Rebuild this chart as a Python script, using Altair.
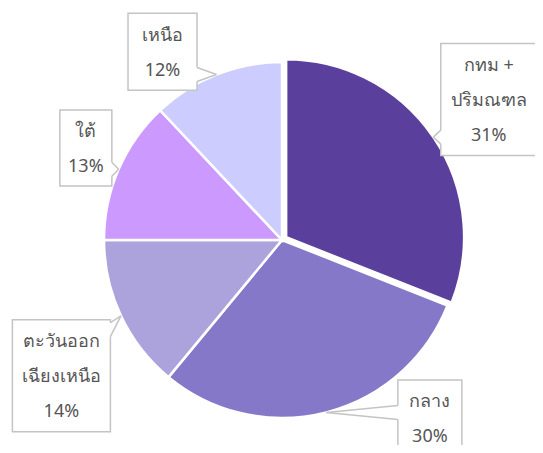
import altair as alt
import pandas as pd
import numpy as np

# ---- data ----
regions = ["กทม + ปริมณฑล", "กลาง", "ตะวันออกเฉียงเหนือ", "ใต้", "เหนือ"]
label_text = ["กทม +\nปริมณฑล", "กลาง", "ตะวันออก\nเฉียงเหนือ", "ใต้", "เหนือ"]
shares = [31, 30, 14, 13, 12]
colors = ["#5b3f9d", "#8678c8", "#ada3dc", "#cc99ff", "#ccccff"]

# ---- layout / style ----
W, H = 527, 437
CX, CY, R = 274, 232, 178
EXPLODE = [5, 0, 0, 0, 0]
LBL_SHIFT = [0, -25.3, -6.4, 1.7, -10.8]     # degrees, label box angle vs slice mid-angle
LBL_DIST = [250, 231.5, 259, 216.6, 223]     # px, pie centre -> box centre
BOX_W = [96, 64, 98, 52, 69]
BOX_H = [112, 76, 112, 76, 77]
PTR_HALF = 7
LINE_H = 35
BORDER = "#c4c4c4"
TEXT_COL = "#555555"
FONT = "Noto Sans"

df = pd.DataFrame({"region": regions, "share": shares, "order": range(len(shares))})
df["explode"] = EXPLODE

# label geometry derived from the slice angles
total = float(sum(shares))
cum = np.cumsum(shares)
mid = (cum - np.array(shares) / 2) / total * 2 * np.pi
ex = np.array(EXPLODE)
tip_x = CX + (R + ex) * np.sin(mid)
tip_y = CY - (R + ex) * np.cos(mid)
ang = mid + np.radians(LBL_SHIFT)
bx = CX + np.array(LBL_DIST) * np.sin(ang)
by = CY - np.array(LBL_DIST) * np.cos(ang)
bw = np.array(BOX_W); bh = np.array(BOX_H)
x0 = bx - bw / 2; x1 = bx + bw / 2; y0 = by - bh / 2; y1 = by + bh / 2

labels = [t + "\n" + f"{s}%" for t, s in zip(label_text, shares)]
nlines = np.array([l.count("\n") + 1 for l in labels])
boxes = pd.DataFrame({"x0": x0, "x1": x1, "y0": y0, "y1": y1, "cx": bx,
                      "ty": by - (nlines - 1) * LINE_H / 2 + 1.5,
                      "label": labels})

segs, covers = [], []
for i in range(len(shares)):
    tx, ty = tip_x[i], tip_y[i]
    if tx < x0[i] or tx > x1[i]:
        ex_ = x0[i] if tx < x0[i] else x1[i]
        b = min(max(ty, y0[i] + PTR_HALF + 3), y1[i] - PTR_HALF - 3)
        a1, a2 = (ex_, b - PTR_HALF), (ex_, b + PTR_HALF)
    else:
        ey = y0[i] if ty < y0[i] else y1[i]
        b = min(max(tx, x0[i] + PTR_HALF + 3), x1[i] - PTR_HALF - 3)
        a1, a2 = (b - PTR_HALF, ey), (b + PTR_HALF, ey)
    covers.append({"x": a1[0], "y": a1[1], "x2": a2[0], "y2": a2[1]})
    segs.append({"x": a1[0], "y": a1[1], "x2": tx, "y2": ty})
    segs.append({"x": a2[0], "y": a2[1], "x2": tx, "y2": ty})
segs = pd.DataFrame(segs)
covers = pd.DataFrame(covers)

xs = alt.Scale(domain=[0, W], range=[0, W], nice=False, zero=False)
ys = alt.Scale(domain=[0, H], range=[0, H], nice=False, zero=False)

base = alt.Chart(df).transform_window(
    end="sum(share)", sort=[alt.SortField("order")], frame=[None, 0]
).transform_calculate(start="datum.end - datum.share")

theta_enc = dict(
    theta=alt.Theta("start:Q", scale=alt.Scale(domain=[0, total])),
    theta2="end:Q",
    color=alt.Color("region:N", scale=alt.Scale(domain=regions, range=colors), legend=None),
)

pie_rest = base.transform_filter("datum.explode == 0").mark_arc(
    outerRadius=R, x=CX, y=CY, stroke="white", strokeWidth=2.5
).encode(**theta_enc)

off = EXPLODE[0]
m0 = mid[0]
pie_out = base.transform_filter("datum.explode > 0").mark_arc(
    outerRadius=R, x=CX + off * np.sin(m0), y=CY - off * np.cos(m0), stroke="white", strokeWidth=2.5
).encode(**theta_enc)

rects = alt.Chart(boxes).mark_rect(fill="white", stroke=BORDER, strokeWidth=1.5).encode(
    x=alt.X("x0:Q", scale=xs, axis=None), x2="x1:Q",
    y=alt.Y("y0:Q", scale=ys, axis=None), y2="y1:Q",
)
cover = alt.Chart(covers).mark_rule(color="white", strokeWidth=2.5).encode(
    x=alt.X("x:Q", scale=xs, axis=None), y=alt.Y("y:Q", scale=ys, axis=None), x2="x2:Q", y2="y2:Q"
)
ptr = alt.Chart(segs).mark_rule(color=BORDER, strokeWidth=1.5).encode(
    x=alt.X("x:Q", scale=xs, axis=None), y=alt.Y("y:Q", scale=ys, axis=None), x2="x2:Q", y2="y2:Q"
)
texts = alt.Chart(boxes).mark_text(
    font=FONT, fontSize=18, color=TEXT_COL, lineBreak="\n", lineHeight=LINE_H,
    align="center", baseline="middle"
).encode(
    x=alt.X("cx:Q", scale=xs, axis=None), y=alt.Y("ty:Q", scale=ys, axis=None), text="label:N"
)

chart = alt.layer(pie_rest, pie_out, rects, cover, ptr, texts).properties(
    width=W, height=H, padding=0, autosize=alt.AutoSizeParams(type="none")
).configure_view(stroke=None)

chart.save("out.html", embed_options={"renderer": "svg", "actions": False})
